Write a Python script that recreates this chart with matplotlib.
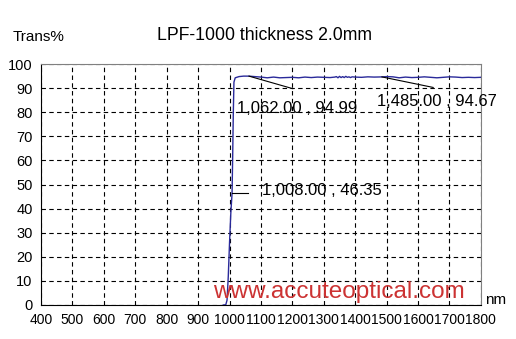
import matplotlib.pyplot as plt

plt.rcParams['font.family'] = ['Liberation Sans', 'DejaVu Sans']

# spectrum
wavelength = [980, 988, 992, 996, 1000, 1004, 1008, 1010, 1012, 1014, 1018,
              1030, 1045, 1062, 1080, 1100, 1120, 1140, 1160, 1180, 1200,
              1220, 1240, 1260, 1280, 1300, 1320, 1335, 1340, 1345, 1350,
              1355, 1360, 1365, 1370, 1375, 1380, 1385, 1390, 1400, 1420,
              1440, 1460, 1485, 1500, 1520, 1540, 1560, 1580, 1600, 1620,
              1640, 1660, 1680, 1700, 1720, 1740, 1760, 1780, 1800]
trans = [0.0, 0.1, 2.0, 12.0, 26.0, 38.0, 46.35, 62.0, 80.0, 92.5, 94.3,
         94.8, 95.0, 94.99, 94.8, 94.6, 94.3, 94.6, 94.3, 94.4, 94.5,
         94.3, 94.6, 94.4, 94.6, 94.5, 94.4, 94.6, 94.8, 94.3, 94.9,
         94.4, 94.8, 94.4, 94.9, 94.5, 94.7, 94.4, 94.7, 94.6, 94.5,
         94.7, 94.6, 94.67, 94.8, 94.7, 94.3, 94.6, 94.4, 94.5, 94.7,
         94.5, 94.3, 94.5, 94.7, 94.6, 94.4, 94.5, 94.4, 94.5]

x_ticks = list(range(400, 1801, 100))
y_ticks = list(range(0, 101, 10))

# (point, text position, line end)
notes = [
    ((1062, 94.99), (1025, 78.5), (1201, 89.8), '1,062.00 , 94.99'),
    ((1485, 94.67), (1468, 81.5), (1648, 90.3), '1,485.00 , 94.67'),
    ((1008, 46.35), (1104, 44.5), (1058, 46.35), '1,008.00 , 46.35'),
]

fig = plt.figure(figsize=(5.16, 3.39), dpi=100)
ax = fig.add_axes([0.0795, 0.1003, 0.8525, 0.7107])

ax.plot(wavelength, trans, color='#2a2a9a', lw=1.0, zorder=3)

ax.set_xlim(400, 1800)
ax.set_ylim(0, 100)
ax.set_xticks(x_ticks)
ax.set_yticks(y_ticks)
ax.grid(True, color='black', linestyle=(0, (4, 3)), lw=0.8)
ax.tick_params(length=0, labelsize=10.5, pad=6)
for lab in ax.get_xticklabels():
    lab.set_fontsize(10)

ax.spines['left'].set_color('black')
ax.spines['bottom'].set_color('black')
ax.spines['top'].set_color('#808080')
ax.spines['right'].set_color('#808080')

for pt, txt_pos, line_end, s in notes:
    ax.plot([pt[0], line_end[0]], [pt[1], line_end[1]], color='black', lw=0.8, zorder=4)
    ax.text(txt_pos[0], txt_pos[1], s, fontsize=12, va='bottom', ha='left', zorder=5)

ax.text(0.39, 0.01, 'www.accuteoptical.com', transform=ax.transAxes, color='#cc3333',
        fontsize=17.5, ha='left', va='bottom', zorder=5)

fig.text(0.513, 0.895, 'LPF-1000 thickness 2.0mm', fontsize=12.7, ha='center', va='center')
fig.text(0.025, 0.89, 'Trans%', fontsize=11, ha='left', va='center')
fig.text(0.94, 0.115, 'nm', fontsize=11, ha='left', va='center')

plt.savefig('out.png', dpi=100)
